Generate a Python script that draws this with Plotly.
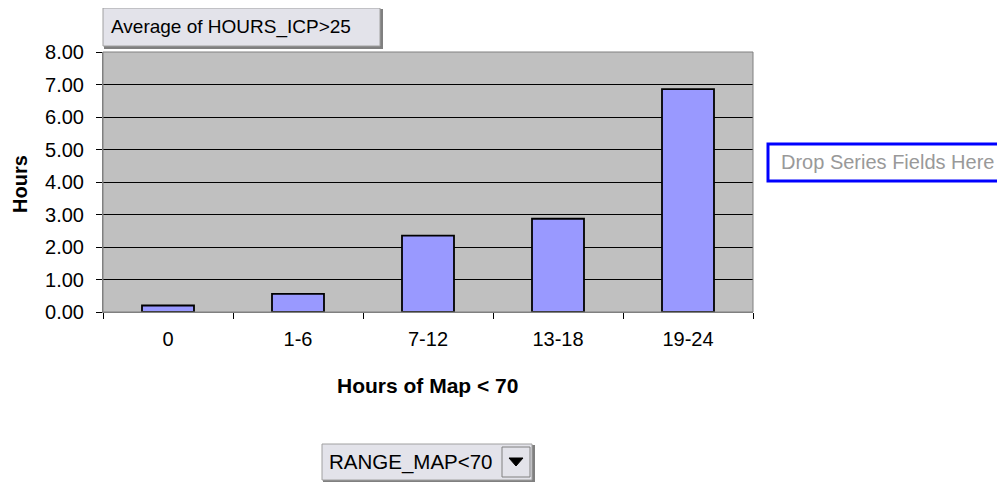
import plotly.graph_objects as go

categories = ["0", "1-6", "7-12", "13-18", "19-24"]
avg_hours = [0.20, 0.56, 2.35, 2.87, 6.86]
y_tick_vals = [0, 1, 2, 3, 4, 5, 6, 7, 8]
y_tick_text = ["0.00", "1.00", "2.00", "3.00", "4.00", "5.00", "6.00", "7.00", "8.00"]

FONT = "Liberation Sans, Arial, sans-serif"
OFF = 8  # page body margin
W, H = 1005 - OFF, 482 - OFF
# plot area in screen pixels
SL, SR, ST, SB = 103, 753, 52, 312
L, R, T, B = SL - OFF, SR - OFF, ST - OFF, SB - OFF


def px(x):
    return (x - SL) / (SR - SL)


def py(y):
    return (SB - y) / (SB - ST)


fig = go.Figure()
fig.add_trace(go.Bar(
    x=categories, y=avg_hours,
    marker=dict(color="#9999FF", line=dict(color="black", width=1.8)),
    hoverinfo="x+y",
))

shapes = []
annotations = []

# plot area border
shapes.append(dict(type="rect", xref="paper", yref="paper", x0=0, x1=1, y0=0, y1=1,
                   line=dict(color="#808080", width=1), fillcolor="rgba(0,0,0,0)", layer="above"))

# top field button
shapes.append(dict(type="rect", xref="paper", yref="paper", x0=px(105), x1=px(382), y0=py(48), y1=py(10),
                   line=dict(color="#808080", width=2), fillcolor="#808080", layer="above"))
shapes.append(dict(type="rect", xref="paper", yref="paper", x0=px(103), x1=px(380), y0=py(46), y1=py(8),
                   line=dict(color="#A0A0A0", width=1), fillcolor="#E3E3EA", layer="above"))
annotations.append(dict(xref="paper", yref="paper", x=px(109), y=py(27), text="Average of HOURS_ICP>25",
                        showarrow=False, xanchor="left", yanchor="middle",
                        font=dict(family=FONT, size=19, color="black")))

# drop series box
shapes.append(dict(type="rect", xref="paper", yref="paper", x0=px(768), x1=px(1003), y0=py(181), y1=py(144),
                   line=dict(color="#0000FF", width=3), fillcolor="white", layer="above"))
annotations.append(dict(xref="paper", yref="paper", x=px(887), y=py(162), text="Drop Series Fields Here",
                        showarrow=False, xanchor="center", yanchor="middle",
                        font=dict(family=FONT, size=20, color="#999999")))

# bottom dropdown
shapes.append(dict(type="rect", xref="paper", yref="paper", x0=px(324), x1=px(534), y0=py(482), y1=py(446),
                   line=dict(color="#808080", width=2), fillcolor="#808080", layer="above"))
shapes.append(dict(type="rect", xref="paper", yref="paper", x0=px(322), x1=px(532), y0=py(480), y1=py(444),
                   line=dict(color="#A0A0A0", width=1), fillcolor="#E3E3EA", layer="above"))
shapes.append(dict(type="rect", xref="paper", yref="paper", x0=px(502), x1=px(530), y0=py(477), y1=py(447),
                   line=dict(color="#808080", width=1), fillcolor="#E3E3EA", layer="above"))
shapes.append(dict(type="path", xref="paper", yref="paper",
                   path=f"M {px(509)} {py(458)} L {px(523)} {py(458)} L {px(516)} {py(466)} Z",
                   line=dict(color="black", width=1), fillcolor="black", layer="above"))
annotations.append(dict(xref="paper", yref="paper", x=px(327), y=py(462), text="RANGE_MAP<70",
                        showarrow=False, xanchor="left", yanchor="middle",
                        font=dict(family=FONT, size=20.5, color="black")))

# axis titles
annotations.append(dict(xref="paper", yref="paper", x=px(427), y=py(386), text="<b>Hours of Map &lt; 70</b>",
                        showarrow=False, xanchor="center", yanchor="middle",
                        font=dict(family=FONT, size=21, color="black")))
annotations.append(dict(xref="paper", yref="paper", x=px(8), y=py(184), text="<b>Hours</b>", textangle=-90,
                        showarrow=False, xanchor="left", yanchor="middle", borderpad=0,
                        font=dict(family=FONT, size=20, color="black")))

fig.update_layout(
    width=W, height=H, autosize=False,
    margin=dict(l=L, r=W - R, t=T, b=H - B, pad=0),
    paper_bgcolor="white", plot_bgcolor="#C0C0C0",
    bargap=0.6, showlegend=False,
    font=dict(family=FONT, size=20, color="black"),
    shapes=shapes, annotations=annotations,
    xaxis=dict(type="category", tickson="boundaries", ticks="outside", ticklen=6, tickcolor="black",
               showline=True, linecolor="#808080", linewidth=1, showgrid=False,
               tickfont=dict(family=FONT, size=20, color="black"), ticklabelstandoff=9),
    yaxis=dict(range=[0, 8], tickvals=y_tick_vals, ticktext=y_tick_text, ticks="outside", ticklen=6,
               tickcolor="black", showline=True, linecolor="#808080", linewidth=1,
               showgrid=True, gridcolor="black", gridwidth=1, zeroline=False,
               tickfont=dict(family=FONT, size=20, color="black"), ticklabelstandoff=8),
)

fig.write_html("out.html")
